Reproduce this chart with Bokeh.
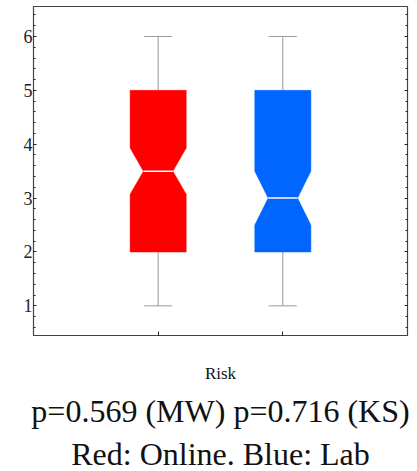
from bokeh.plotting import figure
from bokeh.models import Range1d, SingleIntervalTicker, FixedTicker, LinearAxis, Title
from bokeh.embed import file_html
from bokeh.resources import INLINE

# ---- data ----
groups = ["Online", "Lab"]
xpos = [1, 2]
colors = ["#FF0000", "#0066FF"]
q1 = [2.0, 2.0]
median = [3.5, 3.0]
q3 = [5.0, 5.0]
lower = [1.0, 1.0]
upper = [6.0, 6.0]
notch_lo = [3.07, 2.5]
notch_hi = [3.93, 3.5]
y_ticks = [1, 2, 3, 4, 5, 6]
xlabel = "Risk"
title_line1 = "p=0.569 (MW) p=0.716 (KS)"
title_line2 = "Red: Online. Blue: Lab"

SERIF = "Liberation Serif"
HALF_W = 0.225
NOTCH_W = 0.118
CAP_W = 0.1125

p = figure(width=417, height=471, output_backend="svg", toolbar_location=None,
           x_range=Range1d(0, 3), y_range=Range1d(0.45, 6.556),
           min_border_left=33, min_border_right=10, min_border_top=6, min_border_bottom=135,
           x_axis_location=None, y_axis_location=None)
p.grid.visible = False
p.outline_line_color = "#444444"
p.outline_line_width = 1.2
p.background_fill_color = "white"
p.border_fill_color = "white"

# notched boxes
xs, ys = [], []
for c, a, m, b, nl, nh in zip(xpos, q1, median, q3, notch_lo, notch_hi):
    xs.append([c - HALF_W, c - HALF_W, c - NOTCH_W, c - HALF_W, c - HALF_W,
               c + HALF_W, c + HALF_W, c + NOTCH_W, c + HALF_W, c + HALF_W])
    ys.append([a, nl, m, nh, b, b, nh, m, nl, a])

# whiskers
p.segment(x0=xpos, y0=q3, x1=xpos, y1=upper, line_color="#999999", line_width=1)
p.segment(x0=xpos, y0=lower, x1=xpos, y1=q1, line_color="#999999", line_width=1)
p.segment(x0=[c - CAP_W for c in xpos], y0=upper, x1=[c + CAP_W for c in xpos], y1=upper,
          line_color="#999999", line_width=1)
p.segment(x0=[c - CAP_W for c in xpos], y0=lower, x1=[c + CAP_W for c in xpos], y1=lower,
          line_color="#999999", line_width=1)

p.patches(xs=xs, ys=ys, fill_color=colors, line_color=colors, line_width=0.5)
p.segment(x0=[c - NOTCH_W for c in xpos], y0=median, x1=[c + NOTCH_W for c in xpos], y1=median,
          line_color="white", line_width=1.5)

# axes
def style_axis(ax, tick_values, labels=True):
    ax.axis_line_color = "#444444"
    ax.major_tick_in = 3
    ax.major_tick_out = 0
    ax.minor_tick_in = 2
    ax.minor_tick_out = 0
    ax.major_tick_line_color = "#222222"
    ax.minor_tick_line_color = "#222222"
    if labels:
        ax.major_label_text_font = SERIF
        ax.major_label_text_font_size = "18px"
        ax.major_label_text_color = "#222222"
        ax.major_label_standoff = 1
    else:
        ax.major_label_overrides = {v: "" for v in tick_values}
        ax.major_label_standoff = 0

left = LinearAxis(ticker=SingleIntervalTicker(interval=1, num_minor_ticks=5))
style_axis(left, y_ticks)
p.add_layout(left, "left")

right = LinearAxis(ticker=SingleIntervalTicker(interval=1, num_minor_ticks=5))
style_axis(right, y_ticks, labels=False)
p.add_layout(right, "right")

bottom = LinearAxis(ticker=FixedTicker(ticks=xpos, minor_ticks=[]))
style_axis(bottom, xpos, labels=False)
bottom.major_tick_in = 4
bottom.axis_label = xlabel
bottom.axis_label_text_font = SERIF
bottom.axis_label_text_font_size = "17px"
bottom.axis_label_text_font_style = "normal"
bottom.axis_label_text_color = "#111111"
bottom.axis_label_standoff = 28
p.add_layout(bottom, "below")

p.add_layout(Title(text=title_line1, align="center", text_font=SERIF,
                   text_font_size="32px", text_font_style="normal",
                   text_color="#111111", standoff=10, offset=0), "below")
p.add_layout(Title(text=title_line2, align="center", text_font=SERIF,
                   text_font_size="32px", text_font_style="normal",
                   text_color="#111111", standoff=0, offset=0), "below")

open("out.html", "w").write(file_html(p, INLINE))
